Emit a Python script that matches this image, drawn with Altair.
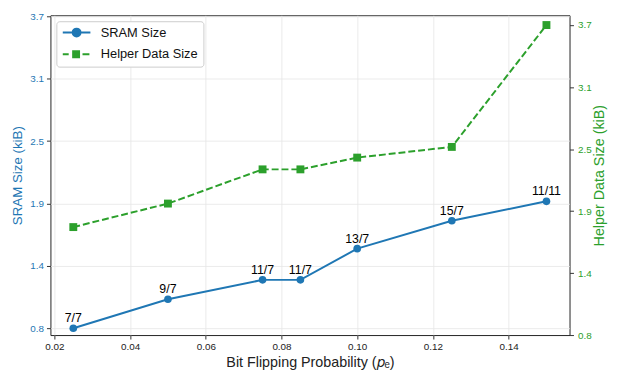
import altair as alt
import pandas as pd

# ---- data ----
P_E = [0.025, 0.05, 0.075, 0.085, 0.10, 0.125, 0.15]
SRAM_KIB = [0.80, 1.07, 1.25, 1.25, 1.54, 1.80, 1.98]
HELPER_KIB = [1.81, 2.03, 2.35, 2.35, 2.46, 2.56, 3.70]
CODE_LABELS = ["7/7", "9/7", "11/7", "11/7", "13/7", "15/7", "11/11"]
X_TICKS = [0.02, 0.04, 0.06, 0.08, 0.10, 0.12, 0.14]
Y_TICKS = [0.8, 1.38, 1.96, 2.54, 3.12, 3.7]
Y_TICK_LABELS = ["0.8", "1.4", "1.9", "2.5", "3.1", "3.7"]
SERIES = ["SRAM Size", "Helper Data Size"]

BLUE = "#1f77b4"
GREEN = "#2ca02c"
FONT = "Liberation Sans"

df = pd.DataFrame({"p": P_E, "sram": SRAM_KIB, "helper": HELPER_KIB, "code": CODE_LABELS})
legend_df = pd.DataFrame({"series": SERIES})

label_expr = ("[" + ",".join(f"'{s}'" for s in Y_TICK_LABELS) + "][indexof(["
              + ",".join(str(v) for v in Y_TICKS) + "], datum.value)]")

x_enc = alt.X(
    "p:Q",
    scale=alt.Scale(domain=[0.01896, 0.1561], nice=False, zero=False),
    axis=alt.Axis(values=X_TICKS, format=".2f", title="Bit Flipping Probability (𝑝ₑ)",
                  grid=True, labelPadding=3, titlePadding=4, titleFontSize=14.5),
)
y_left = alt.Y(
    "sram:Q",
    scale=alt.Scale(domain=[0.737, 3.709], nice=False, zero=False),
    axis=alt.Axis(orient="left", values=Y_TICKS, labelExpr=label_expr, title="SRAM Size (kiB)",
                  labelColor=BLUE, titleColor=BLUE, grid=True, labelPadding=3, titlePadding=5,
                  titleFontSize=13.5),
)
y_right = alt.Y(
    "helper:Q",
    scale=alt.Scale(domain=[0.8, 3.791], nice=False, zero=False),
    axis=alt.Axis(orient="right", values=Y_TICKS, labelExpr=label_expr, title="Helper Data Size (kiB)",
                  labelColor=GREEN, titleColor=GREEN, grid=False, labelPadding=4, titlePadding=2,
                  titleAngle=270, titleBaseline="top", titleFontSize=14.5),
)

base = alt.Chart(df)

sram_line = base.mark_line(color=BLUE, strokeWidth=2).encode(x=x_enc, y=y_left)
sram_pts = base.mark_point(filled=True, shape="circle", size=60, color=BLUE, opacity=1).encode(x=x_enc, y=y_left)
sram_txt = base.mark_text(baseline="alphabetic", dy=-6, fontSize=12.5, color="black", font=FONT).encode(
    x=x_enc, y=y_left, text="code:N")

PATH_SRAM = "M-1,0H4.6M1,0A0.8,0.8,0,1,1,2.6,0A0.8,0.8,0,1,1,1,0Z"
PATH_HELPER = "M-1,0H0.2M3,0H4.4M1.1,-0.6H2.3V0.6H1.1Z"

leg = alt.Legend(title=None, orient="top-left", offset=6, padding=5, cornerRadius=3,
                 strokeColor="#cccccc", fillColor="white", labelFontSize=13, labelFont=FONT,
                 labelColor="#111", symbolSize=100, symbolStrokeWidth=2, labelOffset=27, rowPadding=6)

legend_layer = alt.Chart(legend_df).transform_filter("false").mark_point(
    filled=True, opacity=1, strokeWidth=2).encode(
    fill=alt.Fill("series:N", scale=alt.Scale(domain=SERIES, range=[BLUE, GREEN]), legend=leg),
    stroke=alt.Stroke("series:N", scale=alt.Scale(domain=SERIES, range=[BLUE, GREEN]), legend=leg),
    shape=alt.Shape("series:N", scale=alt.Scale(domain=SERIES, range=[PATH_SRAM, PATH_HELPER]), legend=leg),
)

helper_line = base.mark_line(color=GREEN, strokeWidth=2, strokeDash=[7, 3]).encode(x=x_enc, y=y_right)
helper_pts = base.mark_point(filled=True, shape="square", size=64, color=GREEN, opacity=1).encode(x=x_enc, y=y_right)

left = alt.layer(sram_line, sram_pts, sram_txt, legend_layer)
right = alt.layer(helper_line, helper_pts)

chart = alt.layer(left, right).resolve_scale(y="independent").properties(
    width=526, height=324,
    padding={"left": 43, "top": 5, "right": 41, "bottom": 34},
    autosize=alt.AutoSizeParams(type="none"),
).configure_view(stroke="#222", strokeWidth=1).configure_axis(
    labelFont=FONT, titleFont=FONT, labelFontSize=10, titleFontSize=14, titleFontWeight="normal",
    tickSize=4, tickColor="#333", domain=False, gridColor="#e6e6e6", gridWidth=0.8,
    labelColor="#222", titleColor="#222",
)

chart.save("out.html", embed_options={"renderer": "svg", "actions": False})
